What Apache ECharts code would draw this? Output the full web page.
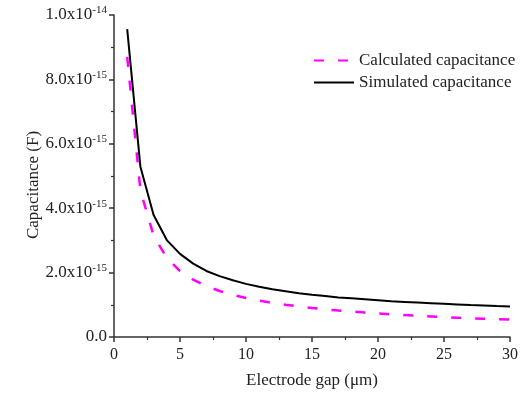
<!DOCTYPE html>
<html>
<head>
<meta charset="utf-8">
<script src="https://cdn.jsdelivr.net/npm/echarts@6/dist/echarts.min.js"></script>
<style>
    html, body { margin: 0; padding: 0; background: #fff; }
    #chart { width: 522px; height: 394px; }
</style>
</head>
<body>
<div id="chart"></div>
<script>
// electrode gap in micrometres
const gapList = [1, 2, 3, 4, 5, 6, 7, 8, 9, 10, 11, 12, 13, 14, 15, 16, 17, 18, 19, 20, 21, 22, 23, 24, 25, 26, 27, 28, 29, 30];
// capacitance, in units of 1e-15 F
const calculatedList = [8.70, 4.55, 3.15, 2.45, 2.05, 1.78, 1.58, 1.43, 1.31, 1.21, 1.13, 1.06, 1.00, 0.95, 0.90,
    0.86, 0.82, 0.79, 0.76, 0.73, 0.70, 0.68, 0.66, 0.64, 0.62, 0.60, 0.58, 0.57, 0.55, 0.54];
const simulatedList = [9.56, 5.29, 3.79, 3.01, 2.58, 2.28, 2.05, 1.89, 1.76, 1.65, 1.56, 1.48, 1.42, 1.36, 1.31,
    1.27, 1.23, 1.20, 1.17, 1.14, 1.11, 1.09, 1.07, 1.05, 1.03, 1.01, 0.99, 0.98, 0.96, 0.95];
const seriesNames = ['Calculated capacitance', 'Simulated capacitance'];
const yTickLabels = { 0: '0.0', 2: '2.0x10|-15', 4: '4.0x10|-15', 6: '6.0x10|-15', 8: '8.0x10|-15', 10: '1.0x10|-14' };

const FONT = '"Liberation Serif", "Times New Roman", serif';
const AXIS_COLOR = '#333';
const TEXT_COLOR = '#222';

const toPairs = (vals) => gapList.map((x, i) => [x, vals[i]]);

const chart = echarts.init(document.getElementById('chart'));
chart.setOption({
    animation: false,
    backgroundColor: '#fff',
    textStyle: { fontFamily: FONT, color: TEXT_COLOR },
    grid: { left: 114, right: 12, top: 15, bottom: 57 },
    legend: {
        orient: 'vertical',
        left: 308,
        top: 47,
        itemWidth: 40,
        itemHeight: 10,
        itemGap: 5,
        itemStyle: { opacity: 0 },
        textStyle: { fontFamily: FONT, fontSize: 17, color: TEXT_COLOR },
        data: seriesNames,
    },
    xAxis: {
        type: 'value',
        min: 0,
        max: 30,
        interval: 5,
        name: 'Electrode gap (\u03bcm)',
        nameLocation: 'middle',
        nameGap: 35,
        nameTextStyle: { fontFamily: FONT, fontSize: 17, color: TEXT_COLOR },
        axisLine: { lineStyle: { color: AXIS_COLOR, width: 1.5 } },
        axisTick: { length: 5, lineStyle: { color: AXIS_COLOR, width: 1.5 } },
        minorTick: { show: true, splitNumber: 2, length: 3, lineStyle: { color: AXIS_COLOR, width: 1.2 } },
        splitLine: { show: false },
        axisLabel: { fontFamily: FONT, fontSize: 16, color: TEXT_COLOR, margin: 10 },
    },
    yAxis: {
        type: 'value',
        min: 0,
        max: 10,
        interval: 2,
        name: 'Capacitance (F)',
        nameLocation: 'middle',
        nameGap: 72,
        nameMoveOverlap: false,
        nameTextStyle: { fontFamily: FONT, fontSize: 17, color: TEXT_COLOR, padding: [0, 18, 0, 0] },
        axisLine: { show: true, lineStyle: { color: AXIS_COLOR, width: 1.5 } },
        axisTick: { show: true, length: 5, lineStyle: { color: AXIS_COLOR, width: 1.5 } },
        minorTick: { show: true, splitNumber: 2, length: 3, lineStyle: { color: AXIS_COLOR, width: 1.2 } },
        splitLine: { show: false },
        axisLabel: {
            margin: 7,
            formatter(val) {
                const txt = yTickLabels[Math.round(val)] || '';
                const [m, e] = txt.split('|');
                return e ? `{m|${m}}{e|${e}}` : `{m|${m}}`;
            },
            rich: {
                m: { fontFamily: FONT, fontSize: 17, color: TEXT_COLOR },
                e: { fontFamily: FONT, fontSize: 11, color: TEXT_COLOR, verticalAlign: 'top', padding: [0, 0, 9, 0] },
            },
        },
    },
    series: [
        {
            name: seriesNames[0],
            type: 'line',
            data: toPairs(calculatedList),
            symbol: 'none',
            lineStyle: { color: '#ff00ff', width: 2.5, type: [10, 14] },
            itemStyle: { color: '#ff00ff' },
        },
        {
            name: seriesNames[1],
            type: 'line',
            data: toPairs(simulatedList),
            symbol: 'none',
            lineStyle: { color: '#000', width: 2 },
            itemStyle: { color: '#000' },
        },
    ],
});
</script>
</body>
</html>
